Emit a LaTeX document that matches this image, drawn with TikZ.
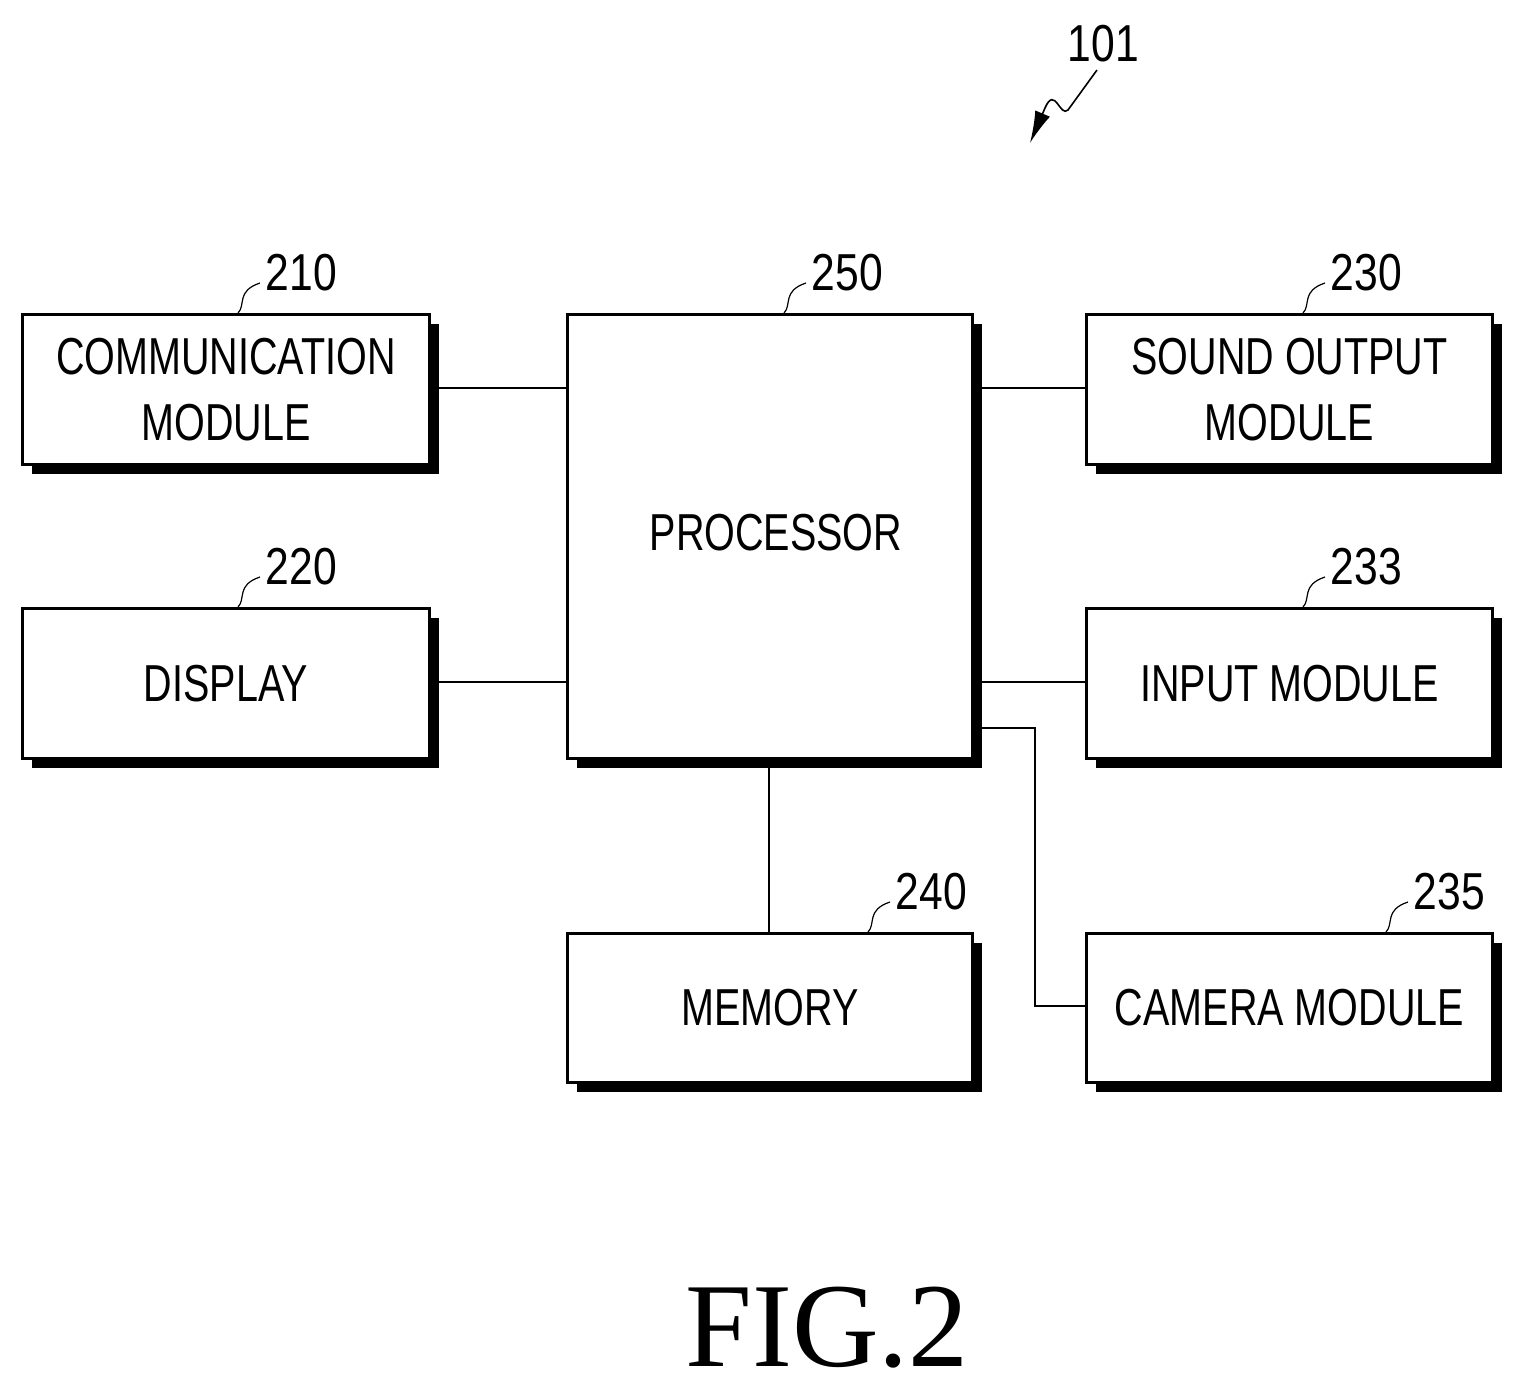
\documentclass[tikz,border=0pt]{standalone}
\usepackage{fontspec}
\usetikzlibrary{arrows.meta}
\setmainfont{Liberation Sans}
\newfontfamily\serifx{Liberation Serif}
\begin{document}
\begin{tikzpicture}[x=0.5pt,y=-0.5pt,
 box/.style={draw,line width=1.5pt,fill=white},
 txt/.style={font=\fontsize{26}{33}\selectfont,xscale=0.76,align=center},
 num/.style={font=\fontsize{26}{30}\selectfont,xscale=0.82},
 ln/.style={line width=1pt}]
\useasboundingbox (0,0) rectangle (1523,1393);
\newcommand\bx[5]{%
 \fill (#2+11,#3+11) rectangle (#4+11,#5+11);
 \node[box,minimum width=(#4-#2)*0.5pt,minimum height=(#5-#3)*0.5pt,anchor=north west] (#1) at (#2,#3) {};}
\bx{comm}{21}{313}{428}{463}
\bx{disp}{21}{607}{428}{757}
\bx{proc}{566}{313}{971}{757}
\bx{snd}{1085}{313}{1491}{463}
\bx{inp}{1085}{607}{1491}{757}
\bx{cam}{1085}{932}{1491}{1081}
\bx{mem}{566}{932}{971}{1081}
\node[txt] at (comm) {COMMUNICATION\\MODULE};
\node[txt] at (disp) {DISPLAY};
\node[txt] at (776,533) {PROCESSOR};
\node[txt] at (snd) {SOUND OUTPUT\\MODULE};
\node[txt] at (inp) {INPUT MODULE};
\node[txt] at (cam) {CAMERA MODULE};
\node[txt] at (mem) {MEMORY};
\coordinate (c1) at (438,388); \coordinate (c2) at (438,682);
\coordinate (c3) at (982,388); \coordinate (c4) at (982,682);
\coordinate (c5) at (982,728); \coordinate (c6) at (769,767);
\coordinate (c7) at (1035,1006);
\draw[ln] (c1) -- (c1-|proc.west);
\draw[ln] (c2) -- (c2-|proc.west);
\draw[ln] (c3) -- (c3-|snd.west);
\draw[ln] (c4) -- (c4-|inp.west);
\draw[ln] (c5) -| (c7) -- (c7-|cam.west);
\draw[ln] (c6) -- (c6|-mem.north);
\newcommand\lbl[3]{%
 \node[num,anchor=west] at (#1+22,#2-40) {#3};
 \draw[line width=0.6pt] (#1,#2) .. controls (#1+8,#2-8) and (#1-2,#2-22) .. (#1+22,#2-30);}
\lbl{238}{313}{210}
\lbl{784}{313}{250}
\lbl{1303}{313}{230}
\lbl{238}{607}{220}
\lbl{1303}{607}{233}
\lbl{868}{932}{240}
\lbl{1386}{932}{235}
\node[num,anchor=west] at (1062,44) {101};
\draw[line width=0.8pt,-{Latex[length=16pt,width=8pt]}] (1097,70) -- (1068,110) .. controls (1060,118) and (1055,85) .. (1045,108) -- (1030,143);
\node[font=\serifx\fontsize{60}{66}\selectfont] at (827,1328) {FIG.2};
\end{tikzpicture}
\end{document}
